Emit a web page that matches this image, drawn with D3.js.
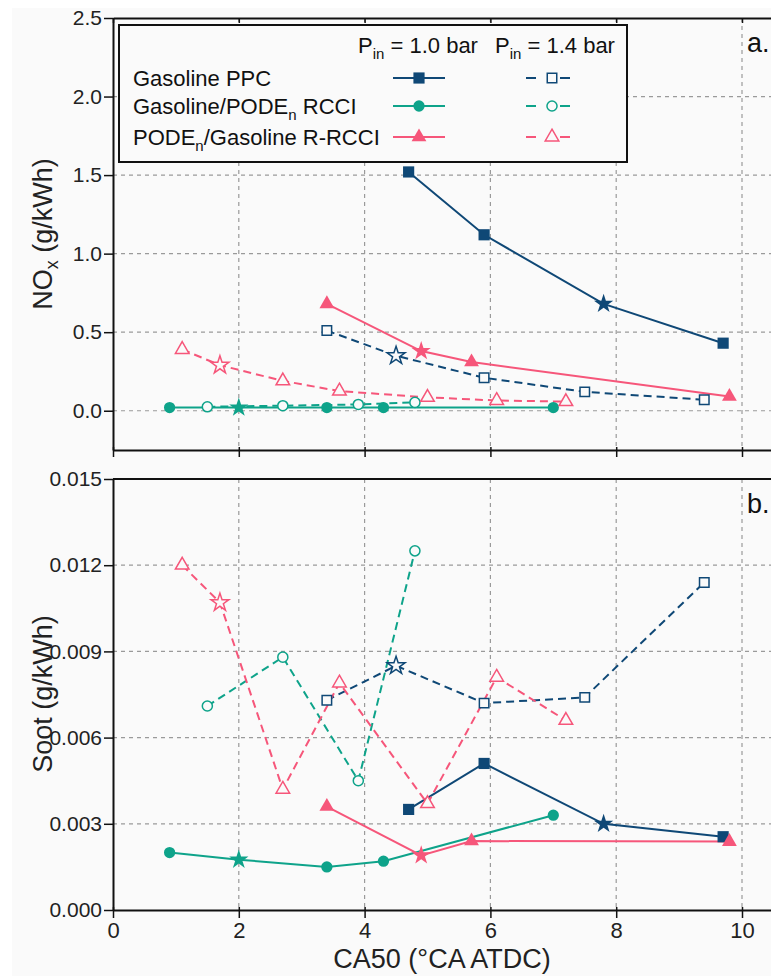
<!DOCTYPE html>
<html>
<head>
<meta charset="utf-8">
<script src="https://cdn.jsdelivr.net/npm/d3@7"></script>
<style>
  body { margin: 0; background: #fff; }
  svg { display: block; font-family: "Liberation Sans", Arial, sans-serif; }
</style>
</head>
<body>
<script>
// CA50 (deg CA ATDC) and emissions
const ca50PPC10 = [4.7, 5.9, 7.8, 9.7];
const noxPPC10 = [1.52, 1.12, 0.68, 0.43];
const sootPPC10 = [0.0035, 0.0051, 0.0030, 0.00255];

const ca50PPC14 = [3.4, 4.5, 5.9, 7.5, 9.4];
const noxPPC14 = [0.51, 0.35, 0.21, 0.12, 0.07];
const sootPPC14 = [0.0073, 0.0085, 0.0072, 0.0074, 0.0114];

const ca50RCCI10 = [0.9, 2.0, 3.4, 4.3, 7.0];
const noxRCCI10 = [0.02, 0.02, 0.02, 0.02, 0.02];
const sootRCCI10 = [0.0020, 0.00175, 0.0015, 0.0017, 0.0033];

const ca50RCCI14 = [1.5, 2.7, 3.9, 4.8];
const noxRCCI14 = [0.025, 0.032, 0.04, 0.053];
const sootRCCI14 = [0.0071, 0.0088, 0.0045, 0.0125];

const ca50RR10 = [3.4, 4.9, 5.7, 9.8];
const noxRR10 = [0.68, 0.38, 0.31, 0.09];
const sootRR10 = [0.0036, 0.0019, 0.0024, 0.00238];

const ca50RR14 = [1.1, 1.7, 2.7, 3.6, 5.0, 6.1, 7.2];
const noxRR14 = [0.39, 0.29, 0.19, 0.125, 0.085, 0.065, 0.058];
const sootRR14 = [0.0120, 0.0107, 0.0042, 0.0079, 0.0037, 0.0081, 0.0066];

// index of the starred point in each series (-1 = none)
const starIdx = [2, 1, 1, -1, 1, 1];

const xTicks = [0, 2, 4, 6, 8, 10];
const noxTicks = [0, 0.5, 1.0, 1.5, 2.0, 2.5];
const sootTicks = [0, 0.003, 0.006, 0.009, 0.012, 0.015];

const navy = "#0f4876", teal = "#0ea38a", pink = "#f6567a", bg = "#fafafa";

const series = [
    { x: ca50PPC10, nox: noxPPC10, soot: sootPPC10, color: navy, shape: d3.symbolSquare, open: false },
    { x: ca50PPC14, nox: noxPPC14, soot: sootPPC14, color: navy, shape: d3.symbolSquare, open: true },
    { x: ca50RCCI10, nox: noxRCCI10, soot: sootRCCI10, color: teal, shape: d3.symbolCircle, open: false },
    { x: ca50RCCI14, nox: noxRCCI14, soot: sootRCCI14, color: teal, shape: d3.symbolCircle, open: true },
    { x: ca50RR10, nox: noxRR10, soot: sootRR10, color: pink, shape: d3.symbolTriangle, open: false },
    { x: ca50RR14, nox: noxRR14, soot: sootRR14, color: pink, shape: d3.symbolTriangle, open: true },
];
series.forEach((s, i) => s.star = starIdx[i]);

const W = 771, H = 976;
const svg = d3.select("body").append("svg").attr("width", W).attr("height", H);
svg.append("rect").attr("x", 12).attr("y", 8).attr("width", W).attr("height", H).attr("fill", bg);

const x = d3.scaleLinear().domain([0, 10.5]).range([113, 113 + 62.9 * 10.5]);
const yTop = d3.scaleLinear().domain([-0.25, 2.5]).range([450, 18]);
const yBot = d3.scaleLinear().domain([0, 0.015]).range([910, 479]);

function symbolSize(shape, open) {
    if (shape === d3.symbolSquare) return open ? 90 : 125;
    if (shape === d3.symbolCircle) return open ? 80 : 100;
    return open ? 80 : 95;
}

function panel(y, key, ticks, fmt) {
    const g = svg.append("g");
    const [y0, y1] = y.range();

    // grid
    g.selectAll(".hg").data(ticks.slice(0, -1).filter(t => y(t) < y0 - 2))
        .join("line")
        .attr("x1", x.range()[0]).attr("x2", W)
        .attr("y1", d => y(d)).attr("y2", d => y(d))
        .attr("stroke", "#9a9a9a").attr("stroke-width", 1.2).attr("stroke-dasharray", "4,4");
    g.selectAll(".vg").data(xTicks.slice(1))
        .join("line")
        .attr("x1", d => x(d)).attr("x2", d => x(d))
        .attr("y1", y1).attr("y2", y0)
        .attr("stroke", "#9a9a9a").attr("stroke-width", 1.2).attr("stroke-dasharray", "4,4");

    // lines
    series.forEach(s => {
        const pts = s.x.map((v, i) => [v, s[key][i]]);
        g.append("path")
            .attr("d", d3.line().x(d => x(d[0])).y(d => y(d[1]))(pts))
            .attr("fill", "none")
            .attr("stroke", s.color)
            .attr("stroke-width", 2)
            .attr("stroke-dasharray", s.open ? "8,5" : null);
    });

    // markers
    series.forEach(s => {
        const pts = s.x.map((v, i) => [v, s[key][i], i]);
        g.selectAll(null).data(pts).join("path")
            .attr("transform", d => `translate(${x(d[0])},${y(d[1])})`)
            .attr("d", d => d[2] === s.star
                ? d3.symbol(d3.symbolStar, s.open ? 100 : 115)()
                : d3.symbol(s.shape, symbolSize(s.shape, s.open))())
            .attr("fill", s.open ? bg : s.color)
            .attr("stroke", s.open ? s.color : "none")
            .attr("stroke-width", 1.5);
    });

    // left axis
    const ax = g.append("g").attr("transform", `translate(${x.range()[0]},0)`)
        .call(d3.axisLeft(y).tickValues(ticks).tickFormat(d3.format(fmt)).tickSize(9).tickSizeOuter(0).tickPadding(2));
    ax.select(".domain").attr("stroke", "#111").attr("stroke-width", 2);
    ax.selectAll(".tick line").attr("stroke", "#111").attr("stroke-width", 1.5);
    ax.selectAll("text").attr("font-size", 21).attr("fill", "#222")
        .attr("font-family", "'Liberation Sans', Arial, sans-serif");
    return g;
}

const topG = panel(yTop, "nox", noxTicks, ".1f");
const botG = panel(yBot, "soot", sootTicks, ".3f");

// top panel frame
const topAxisT = topG.append("g").attr("transform", `translate(0,${yTop.range()[1]})`)
    .call(d3.axisBottom(x).tickValues(xTicks).tickFormat("").tickSize(5).tickSizeOuter(0));
const topAxisB = topG.append("g").attr("transform", `translate(0,${yTop.range()[0]})`)
    .call(d3.axisBottom(x).tickValues(xTicks).tickFormat("").tickSize(7).tickSizeOuter(0));
topAxisB.selectAll(".tick line").attr("y1", -3);
[topAxisT, topAxisB].forEach(a => {
    a.select(".domain").attr("stroke", "#111").attr("stroke-width", 2);
    a.selectAll(".tick line").attr("stroke", "#111").attr("stroke-width", 1.5);
});

// bottom panel frame
botG.append("line").attr("x1", x.range()[0]).attr("x2", W)
    .attr("y1", yBot.range()[1]).attr("y2", yBot.range()[1])
    .attr("stroke", "#111").attr("stroke-width", 2);
const xAx = botG.append("g").attr("transform", `translate(0,${yBot.range()[0]})`)
    .call(d3.axisBottom(x).tickValues(xTicks).tickSize(8).tickSizeOuter(0).tickPadding(4));
xAx.select(".domain").attr("stroke", "#111").attr("stroke-width", 2);
xAx.selectAll(".tick line").attr("stroke", "#111").attr("stroke-width", 1.5).attr("y1", -3);
xAx.selectAll("text").attr("font-size", 22).attr("fill", "#222")
    .attr("font-family", "'Liberation Sans', Arial, sans-serif");

// titles
svg.append("text").attr("x", 442).attr("y", 968).attr("text-anchor", "middle")
    .attr("font-size", 27).attr("fill", "#222").text("CA50 (°CA ATDC)");

const noxT = svg.append("text").attr("transform", "translate(52,234) rotate(-90)")
    .attr("text-anchor", "middle").attr("font-size", 27).attr("fill", "#222");
noxT.append("tspan").text("NO");
noxT.append("tspan").attr("font-size", 18).attr("dy", 6).text("x");
noxT.append("tspan").attr("dy", -6).text(" (g/kWh)");

svg.append("text").attr("transform", "translate(52,694) rotate(-90)")
    .attr("text-anchor", "middle").attr("font-size", 27).attr("fill", "#222").text("Soot (g/kWh)");

svg.append("text").attr("x", 747).attr("y", 52).attr("font-size", 27).attr("fill", "#111").text("a.");
svg.append("text").attr("x", 747).attr("y", 513).attr("font-size", 27).attr("fill", "#111").text("b.");

// legend
const lg = svg.append("g");
lg.append("rect").attr("x", 119).attr("y", 25).attr("width", 508).attr("height", 137)
    .attr("fill", bg).attr("stroke", "#111").attr("stroke-width", 2);

function subText(xp, yp, main, sub, rest) {
    const t = lg.append("text").attr("x", xp).attr("y", yp).attr("font-size", 22).attr("fill", "#111");
    t.append("tspan").text(main);
    t.append("tspan").attr("font-size", 15).attr("dy", 6).text(sub);
    t.append("tspan").attr("dy", -6).text(rest);
}
subText(358, 53, "P", "in", " = 1.0 bar");
subText(495, 53, "P", "in", " = 1.4 bar");

const legendRows = [78, 106, 137];
lg.append("text").attr("x", 133).attr("y", legendRows[0] + 7.5).attr("font-size", 22).attr("fill", "#111").text("Gasoline PPC");
subText(133, legendRows[1] + 7.5, "Gasoline/PODE", "n", " RCCI");
subText(133, legendRows[2] + 7.5, "PODE", "n", "/Gasoline R-RCCI");

series.forEach((s, i) => {
    const row = legendRows[Math.floor(i / 2)];
    const cx = s.open ? 552 : 419;
    if (s.open) {
        lg.append("line").attr("x1", 526).attr("x2", 536).attr("y1", row).attr("y2", row)
            .attr("stroke", s.color).attr("stroke-width", 2);
        lg.append("line").attr("x1", 560).attr("x2", 570).attr("y1", row).attr("y2", row)
            .attr("stroke", s.color).attr("stroke-width", 2);
    } else {
        lg.append("line").attr("x1", 393).attr("x2", 445).attr("y1", row).attr("y2", row)
            .attr("stroke", s.color).attr("stroke-width", 2);
    }
    lg.append("path").attr("transform", `translate(${cx},${row})`)
        .attr("d", d3.symbol(s.shape, symbolSize(s.shape, s.open))())
        .attr("fill", s.open ? bg : s.color)
        .attr("stroke", s.open ? s.color : "none")
        .attr("stroke-width", 1.5);
});
</script>
</body>
</html>
